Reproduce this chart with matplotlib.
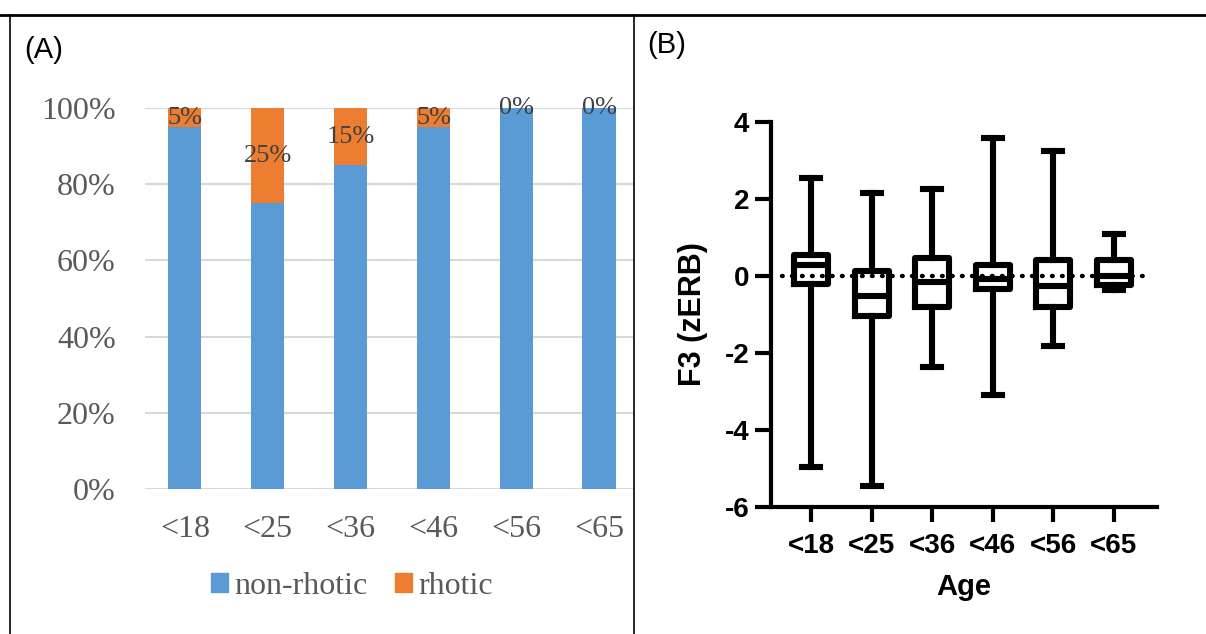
import numpy as np
import matplotlib
matplotlib.use("Agg")
from matplotlib import pyplot as plt
from matplotlib.lines import Line2D
from matplotlib.patches import Patch

plt.rcParams["axes.unicode_minus"] = False

# panel A: share of speakers (%)
ages = ["<18", "<25", "<36", "<46", "<56", "<65"]
non_rhotic = [95, 75, 85, 95, 100, 100]
rhotic = [5, 25, 15, 5, 0, 0]
pct_ticks = [0, 20, 40, 60, 80, 100]

# panel B: F3 (zERB) box summaries per age group
whislo = [-4.95, -5.45, -2.37, -3.08, -1.82, -0.37]
q1 = [-0.20, -1.05, -0.81, -0.35, -0.81, -0.23]
med = [0.29, -0.51, -0.15, -0.08, -0.27, 0.00]
q3 = [0.55, 0.13, 0.46, 0.29, 0.42, 0.41]
whishi = [2.55, 2.15, 2.26, 3.58, 3.24, 1.10]
f3_ticks = [-6, -4, -2, 0, 2, 4]

blue = "#5B9BD5"
orange = "#ED7D31"
grey = "#595959"

fig = plt.figure(figsize=(12.06, 6.34), dpi=100)

# frame lines of the two-cell layout
fig.add_artist(Line2D([0, 1], [1 - 15/634, 1 - 15/634], color="black", lw=2.0))
fig.add_artist(Line2D([10/1206, 10/1206], [0, 1 - 15/634], color="black", lw=1.2))
fig.add_artist(Line2D([634/1206, 634/1206], [0, 1 - 15/634], color="black", lw=1.2))

fig.text(24/1206, 1 - 50/634, "(A)", fontsize=21, family="Liberation Sans", va="center")
fig.text(647/1206, 1 - 45/634, "(B)", fontsize=21, family="Liberation Sans", va="center")

# ---- (A) stacked bars
serif = "Liberation Serif"
ax1 = fig.add_axes([145/1206, 1 - 489/634, (633 - 145)/1206, 381/634])
x = np.arange(len(ages))
b1 = ax1.bar(x, non_rhotic, width=0.4, color=blue, label="non-rhotic", zorder=2)
b2 = ax1.bar(x, rhotic, width=0.4, bottom=non_rhotic, color=orange, label="rhotic", zorder=2)
ax1.bar_label(b2, labels=[f"{v}%" for v in rhotic], label_type="center",
              fontsize=19, family=serif, color="#404040", zorder=3)
ax1.set_xlim(-0.482, 5.41)
ax1.set_ylim(0, 100)
ax1.set_yticks(pct_ticks)
ax1.set_yticklabels([f"{t}%" for t in pct_ticks])
ax1.set_xticks(x)
ax1.set_xticklabels(ages)
ax1.grid(axis="y", color="#D9D9D9", lw=1.5, zorder=0)
ax1.tick_params(length=0, labelsize=23, labelcolor=grey)
ax1.tick_params(axis="y", pad=21)
ax1.tick_params(axis="x", pad=19)
for lab in ax1.get_xticklabels() + ax1.get_yticklabels():
    lab.set_family(serif)
for s in ax1.spines.values():
    s.set_visible(False)
handles = [Patch(color=blue, label="non-rhotic"), Patch(color=orange, label="rhotic")]
ax1.legend(handles=handles, loc="center", bbox_to_anchor=(0.424, -0.255), ncol=2,
           frameon=False, prop={"family": serif, "size": 23}, labelcolor=grey,
           handlelength=0.53, handleheight=0.53, handletextpad=0.2, columnspacing=0.85)

# ---- (B) box plots
sans = "Liberation Sans"
ax2 = fig.add_axes([771/1206, 1 - 507/634, (1157 - 771)/1206, 385/634])
stats = [dict(whislo=a, q1=b, med=c, q3=d, whishi=e, fliers=[])
         for a, b, c, d, e in zip(whislo, q1, med, q3, whishi)]
lw = 4.4
ax2.bxp(stats, positions=x, widths=0.56, capwidths=0.3, showfliers=False,
        boxprops=dict(lw=lw, color="black"), whiskerprops=dict(lw=lw, color="black"),
        capprops=dict(lw=lw, color="black"), medianprops=dict(lw=lw, color="black"),
        manage_ticks=False)
ax2.axhline(0, xmin=0.028, xmax=0.987, color="black", lw=3.2,
            linestyle=(0, (0.15, 2.1)), dash_capstyle="round", zorder=4)
ax2.set_xlim(-0.66, 5.71)
ax2.set_ylim(-6, 4)
ax2.set_yticks(f3_ticks)
ax2.set_xticks(x)
ax2.set_xticklabels(ages)
for s in ["top", "right"]:
    ax2.spines[s].set_visible(False)
for s in ["left", "bottom"]:
    ax2.spines[s].set_linewidth(3.0)
ax2.tick_params(width=3.0, length=11.5, labelsize=20, direction="out", pad=4)
ax2.tick_params(axis="x", length=11, pad=8)
for lab in ax2.get_xticklabels() + ax2.get_yticklabels():
    lab.set_family(sans)
    lab.set_fontweight("bold")
ax2.set_xlabel("Age", fontsize=21, family=sans, fontweight="bold", labelpad=10)
ax2.set_ylabel("F3 (zERB)", fontsize=22, family=sans, fontweight="bold", labelpad=12)

fig.savefig("out.png", dpi=100)
